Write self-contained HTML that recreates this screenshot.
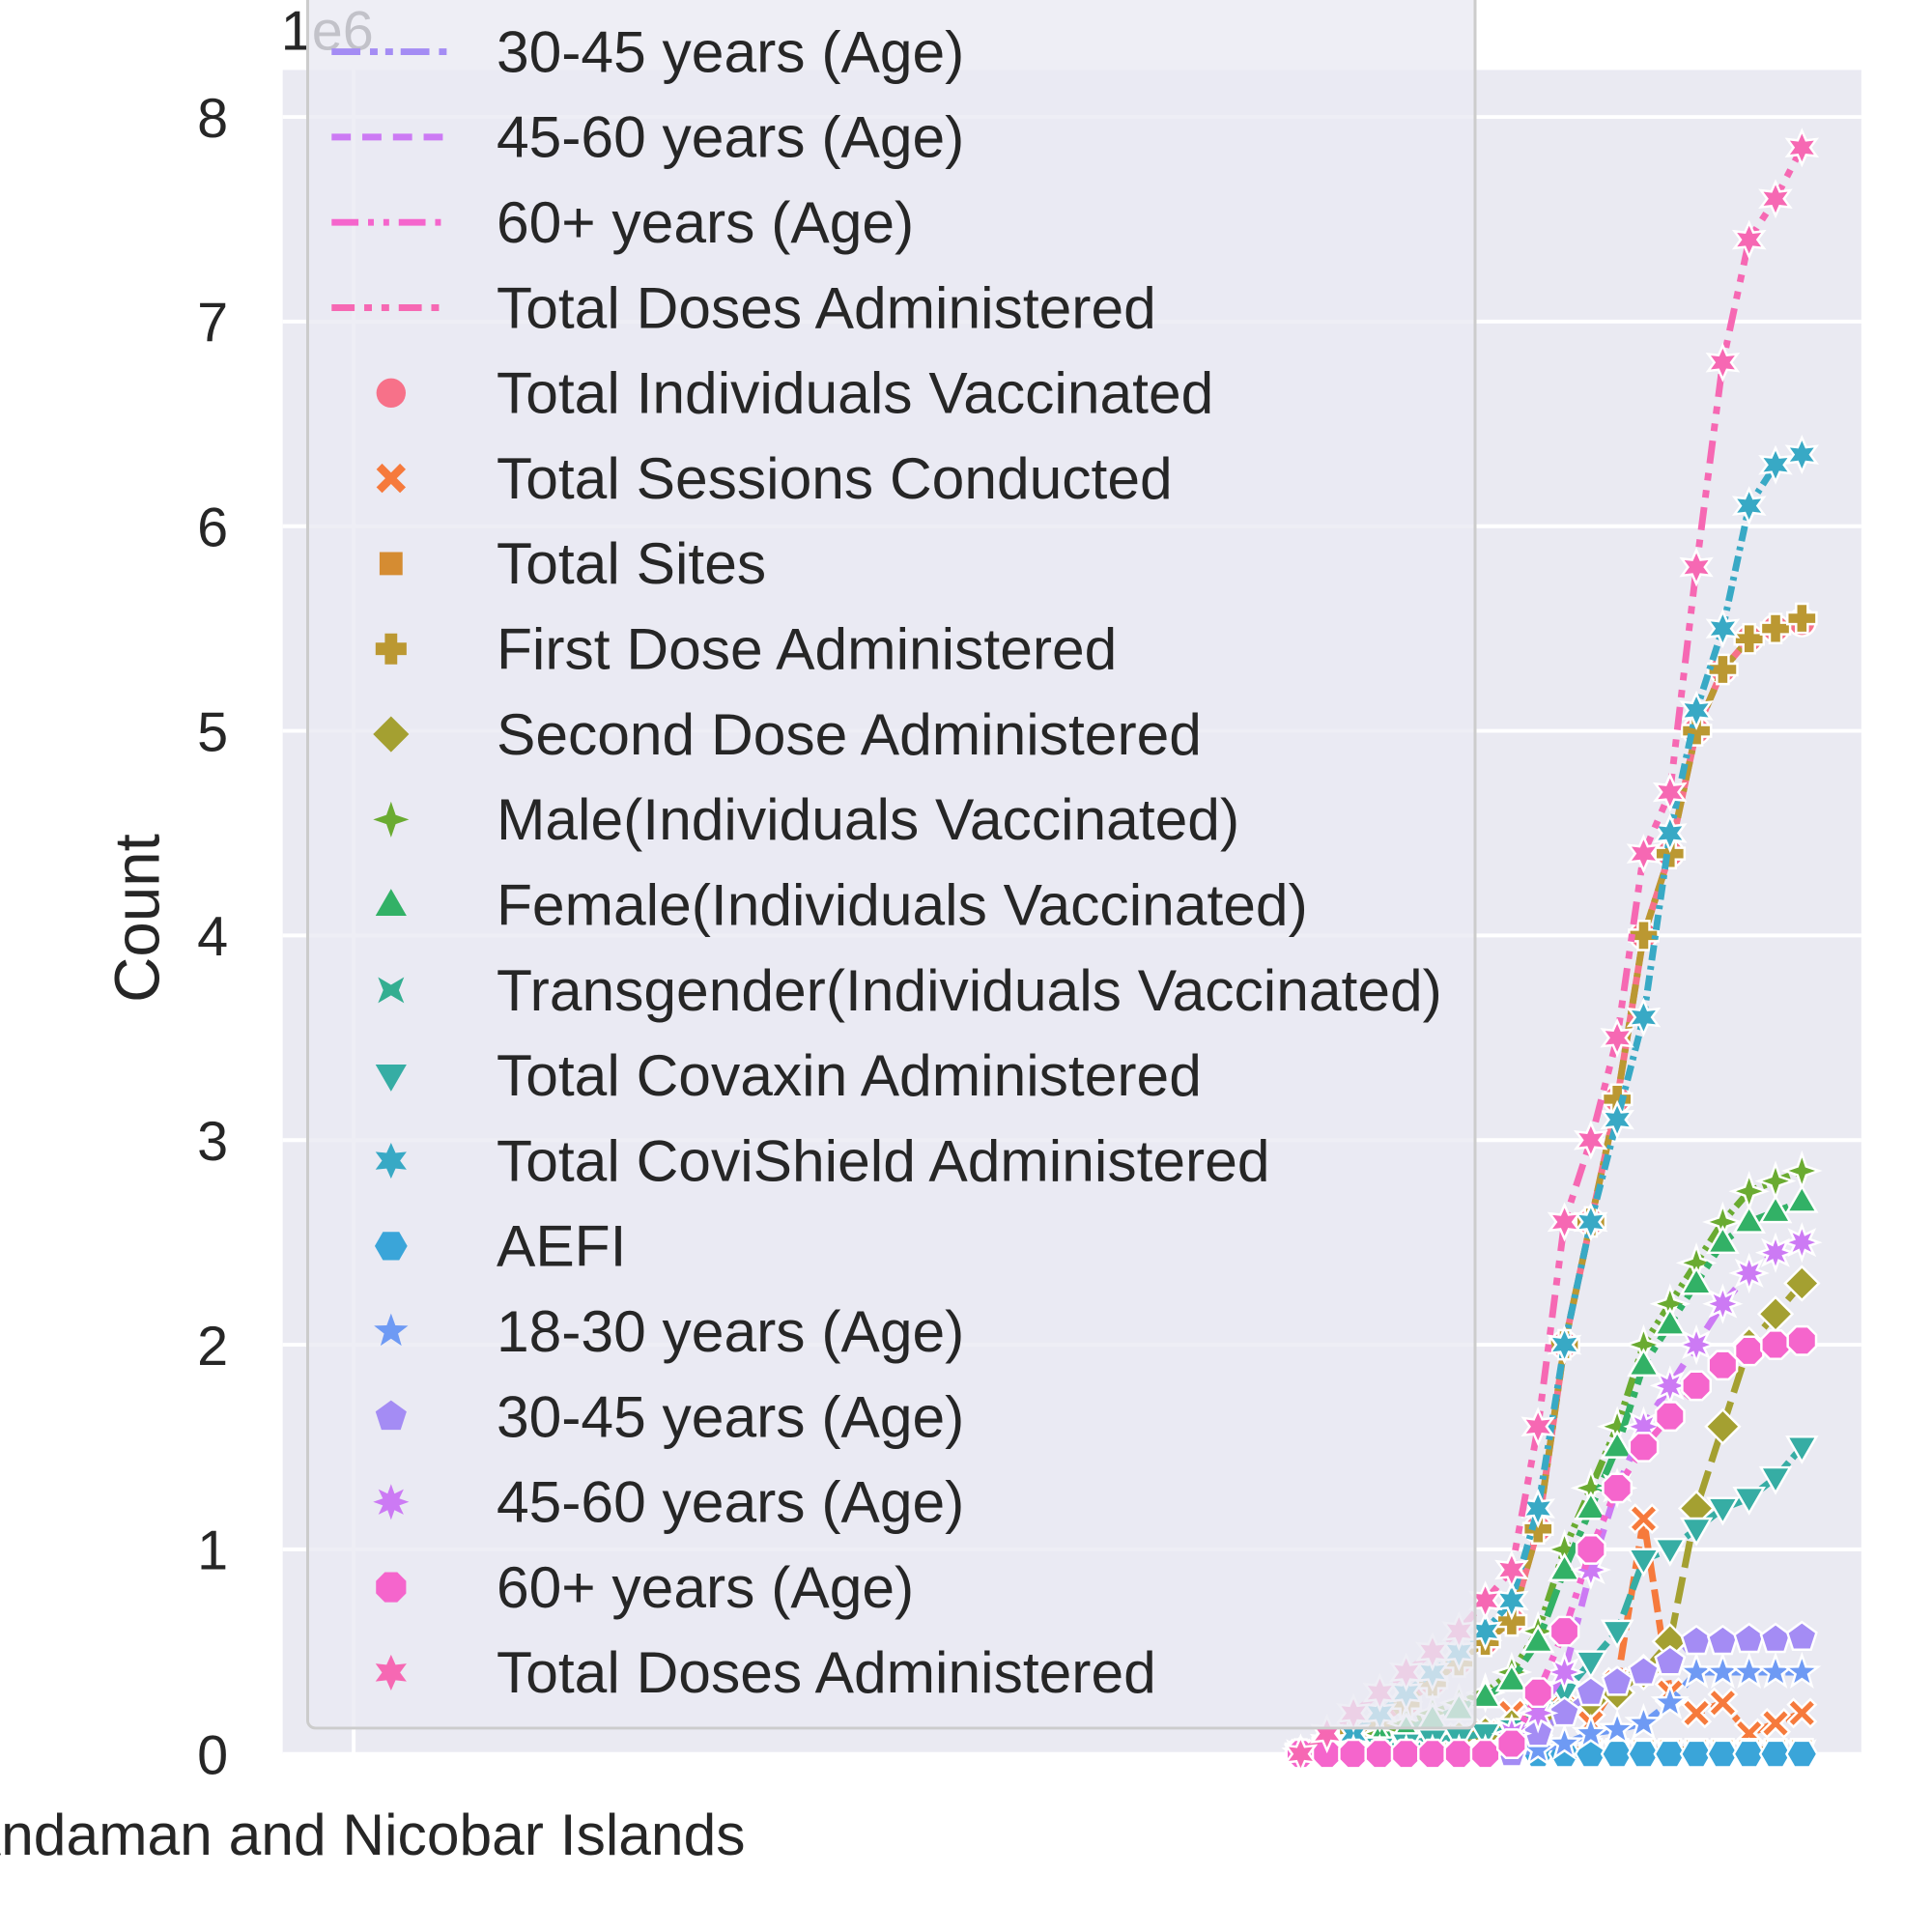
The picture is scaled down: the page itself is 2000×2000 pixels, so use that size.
<!DOCTYPE html>
<html><head><meta charset="utf-8">
<style>
html,body{margin:0;padding:0;background:#fff;}
svg{display:block;font-family:"Liberation Sans",Arial,sans-serif;}
</style></head>
<body>
<svg id="chart" width="2000" height="2000" viewBox="0 0 2000 2000" xmlns="http://www.w3.org/2000/svg">
<g transform="scale(0.9922)">
<rect x="295" y="73" width="1647" height="1757" fill="#eaeaf2"/>
<g id="grid"></g>
<g id="yticks"></g>
<text x="293" y="52" font-size="58" fill="#262626">1e6</text>
<text transform="translate(166,958) rotate(-90)" text-anchor="middle" font-size="66" fill="#262626">Count</text>
<text x="369" y="1935" text-anchor="middle" font-size="61" fill="#262626">Andaman and Nicobar Islands</text>
<g id="series"></g>
<rect x="321" y="-40" width="1218" height="1843" rx="8" fill="#eaeaf2" fill-opacity="0.8" stroke="#cccccc" stroke-width="3"/>
<g id="legend"></g>
</g>
</svg>
<script>
const seriesNames = ["Total Individuals Vaccinated","Total Sessions Conducted","Total Sites","First Dose Administered","Second Dose Administered","Male(Individuals Vaccinated)","Female(Individuals Vaccinated)","Transgender(Individuals Vaccinated)","Total Covaxin Administered","Total CoviShield Administered","AEFI","18-30 years (Age)","30-45 years (Age)","45-60 years (Age)","60+ years (Age)","Total Doses Administered"];
const yTicks = [0,1,2,3,4,5,6,7,8];
// values in millions, 20 sampled dates
const sIndividuals = [0,0.05,0.1,0.15,0.25,0.35,0.45,0.55,0.65,1.1,2.0,2.6,3.2,4.0,4.4,5.0,5.3,5.45,5.5,5.53];
const sSessions = [0,0.01,0.02,0.03,0.04,0.05,0.08,0.1,0.2,0.05,0.3,0.15,0.35,1.15,0.3,0.2,0.25,0.1,0.15,0.2];
const sSites = [0,0,0.01,0.01,0.01,0.01,0.02,0.02,0.02,0.02,0.02,0.02,0.02,0.02,0.02,0.02,0.02,0.02,0.02,0.02];
const sFirst = [0,0.05,0.1,0.15,0.25,0.35,0.45,0.55,0.65,1.1,2.0,2.6,3.2,4.0,4.4,5.0,5.3,5.45,5.5,5.55];
const sSecond = [0,0,0,0.02,0.04,0.06,0.08,0.1,0.14,0.18,0.22,0.26,0.3,0.4,0.55,1.2,1.6,2.0,2.15,2.3];
const sMale = [0,0.02,0.05,0.1,0.15,0.2,0.25,0.3,0.4,0.6,1.0,1.3,1.6,2.0,2.2,2.4,2.6,2.75,2.8,2.85];
const sFemale = [0,0.02,0.04,0.08,0.12,0.17,0.22,0.28,0.36,0.55,0.9,1.2,1.5,1.9,2.1,2.3,2.5,2.6,2.65,2.7];
const sTrans = [0,0,0,0,0,0,0,0,0,0,0,0,0,0,0,0,0,0,0,0];
const sCovaxin = [0,0.01,0.02,0.03,0.05,0.07,0.08,0.1,0.12,0.2,0.3,0.45,0.6,0.95,1.0,1.1,1.2,1.25,1.35,1.5];
const sCovishield = [0,0.05,0.1,0.2,0.3,0.4,0.5,0.6,0.75,1.2,2.0,2.6,3.1,3.6,4.5,5.1,5.5,6.1,6.3,6.35];
const sAefi = [0,0,0,0,0,0,0,0,0,0,0,0,0,0,0,0,0,0,0,0];
const s1830 = [0,0,0,0,0,0,0,0,0,0.02,0.05,0.1,0.12,0.15,0.25,0.4,0.4,0.4,0.4,0.4];
const s3045 = [0,0,0,0,0,0,0,0,0,0.1,0.2,0.3,0.35,0.4,0.45,0.55,0.55,0.56,0.56,0.57];
const s4560 = [0,0,0,0,0,0,0,0,0.1,0.2,0.4,0.9,1.3,1.6,1.8,2.0,2.2,2.35,2.45,2.5];
const s60 = [0,0,0,0,0,0,0,0,0.05,0.3,0.6,1.0,1.3,1.5,1.65,1.8,1.9,1.97,2.0,2.02];
const sDoses = [0,0.1,0.2,0.3,0.4,0.5,0.6,0.75,0.9,1.6,2.6,3.0,3.5,4.4,4.7,5.8,6.8,7.4,7.6,7.85];
const allSeries = [sIndividuals,sSessions,sSites,sFirst,sSecond,sMale,sFemale,sTrans,sCovaxin,sCovishield,sAefi,s1830,s3045,s4560,s60,sDoses];

const colors = ["#f77189","#f67a3c","#d58c32","#bb9832","#a4a031","#6aab31","#32b166","#34ae91","#36ada4","#38a9c5","#3aa5d9","#6e9af4","#a48cf4","#cc7af4","#f565cc","#f668b3"];
const dashes = ["", "24 8", "4 8", "20 8 4 8", "28 10", "20 6 4 6 4 6", "30 8 6 8", "8 8", "22 6", "16 6 4 6", "", "18 10", "30 10 8 8 8 8", "20 12", "28 10 6 10 6 10", "24 10 8 10 8 10"];
const markers = ["circle","x","square","plus","diamond","star4","tri","bow","trid","star6","hex","star5","pent","star8","oct","star6"];

const NS="http://www.w3.org/2000/svg";
const X0=1357, X1=1880, Y0=1830, YU=213.5;
function xs(i,n){return X0+i*(X1-X0)/(n-1);}
function ys(v){return Y0-v*YU;}

function poly(n,r,rot,cx,cy){let p=[];for(let k=0;k<n;k++){const a=rot+k*2*Math.PI/n;p.push((cx+r*Math.cos(a)).toFixed(1)+","+(cy+r*Math.sin(a)).toFixed(1));}return p.join(" ");}
function star(n,r,ri,cx,cy){let p=[];for(let k=0;k<2*n;k++){const a=-Math.PI/2+k*Math.PI/n;const rr=k%2?ri:r;p.push((cx+rr*Math.cos(a)).toFixed(1)+","+(cy+rr*Math.sin(a)).toFixed(1));}return p.join(" ");}
function markerEl(type,cx,cy,col,s){
  let el;
  if(type==="circle"){el=document.createElementNS(NS,"circle");el.setAttribute("cx",cx);el.setAttribute("cy",cy);el.setAttribute("r",s*0.9);}
  else {
    el=document.createElementNS(NS,"polygon");let pts;
    const r=s;
    if(type==="square")pts=poly(4,r,Math.PI/4,cx,cy);
    else if(type==="diamond")pts=poly(4,r*1.1,0,cx,cy);
    else if(type==="tri")pts=poly(3,r*1.1,-Math.PI/2,cx,cy+2);
    else if(type==="trid")pts=poly(3,r*1.1,Math.PI/2,cx,cy-2);
    else if(type==="hex")pts=poly(6,r,0,cx,cy);
    else if(type==="pent")pts=poly(5,r,-Math.PI/2,cx,cy);
    else if(type==="oct")pts=poly(8,r,Math.PI/8,cx,cy);
    else if(type==="star4")pts=star(4,r*1.1,r*0.4,cx,cy);
    else if(type==="star5")pts=star(5,r*1.1,r*0.45,cx,cy);
    else if(type==="star6")pts=star(6,r*1.1,r*0.55,cx,cy);
    else if(type==="star8")pts=star(8,r*1.1,r*0.55,cx,cy);
    else if(type==="bow")pts=[[-1,-1],[0,-0.4],[1,-1],[0.6,0],[1,1],[0,0.4],[-1,1],[-0.6,0]].map(q=>(cx+q[0]*r*0.8)+","+(cy+q[1]*r*0.8)).join(" ");
    else if(type==="x"){const a=r*0.35,b=r*0.9;pts=[[-b,-b+a],[-b+a,-b],[0,-a],[b-a,-b],[b,-b+a],[a,0],[b,b-a],[b-a,b],[0,a],[-b+a,b],[-b,b-a],[-a,0]].map(q=>(cx+q[0])+","+(cy+q[1])).join(" ");}
    else if(type==="plus"){const a=r*0.38,b=r*0.95;pts=[[-a,-b],[a,-b],[a,-a],[b,-a],[b,a],[a,a],[a,b],[-a,b],[-a,a],[-b,a],[-b,-a],[-a,-a]].map(q=>(cx+q[0])+","+(cy+q[1])).join(" ");}
    el.setAttribute("points",pts);
  }
  el.setAttribute("fill",col);
  el.setAttribute("stroke","#ffffff");
  el.setAttribute("stroke-width","2.5");
  return el;
}

const grid=document.getElementById("grid"), yt=document.getElementById("yticks");
yTicks.forEach(t=>{
  const l=document.createElementNS(NS,"line");
  l.setAttribute("x1",295);l.setAttribute("x2",1942);l.setAttribute("y1",ys(t));l.setAttribute("y2",ys(t));
  l.setAttribute("stroke","#ffffff");l.setAttribute("stroke-width","4");
  
  
  grid.appendChild(l);
  const tx=document.createElementNS(NS,"text");
  tx.setAttribute("x",238);tx.setAttribute("y",ys(t)+21);tx.setAttribute("text-anchor","end");tx.setAttribute("font-size","58");tx.setAttribute("fill","#262626");
  tx.textContent=t;
  
  
  yt.appendChild(tx);
});
const vl=document.createElementNS(NS,"line");
vl.setAttribute("x1",369);vl.setAttribute("x2",369);vl.setAttribute("y1",73);vl.setAttribute("y2",1830);vl.setAttribute("stroke","#fff");vl.setAttribute("stroke-width","4");


grid.appendChild(vl);

const sg=document.getElementById("series");
allSeries.forEach((vals,si)=>{
  const g=document.createElementNS(NS,"g");
  
  
  const pl=document.createElementNS(NS,"polyline");
  pl.setAttribute("points",vals.map((v,i)=>xs(i,vals.length)+","+ys(v)).join(" "));
  pl.setAttribute("fill","none");pl.setAttribute("stroke",colors[si]);pl.setAttribute("stroke-width","7");
  if(dashes[si])pl.setAttribute("stroke-dasharray",dashes[si]);
  
  
  g.appendChild(pl);
  vals.forEach((v,i)=>{
    const m=markerEl(markers[si],xs(i,vals.length),ys(v),colors[si],16);
    
    
    g.appendChild(m);
  });
  sg.appendChild(g);
});

const lg=document.getElementById("legend");
const lineEntries=[12,13,14,15];
let row=0;
function legText(y,txt){
  const t=document.createElementNS(NS,"text");
  t.setAttribute("x",518);t.setAttribute("y",y+21);t.setAttribute("font-size","61");t.setAttribute("fill","#262626");
  t.textContent=txt;
  
  
  lg.appendChild(t);
}
lineEntries.forEach(si=>{
  const y=54+89*row;
  const l=document.createElementNS(NS,"line");
  l.setAttribute("x1",346);l.setAttribute("x2",468);l.setAttribute("y1",y);l.setAttribute("y2",y);
  l.setAttribute("stroke",colors[si]);l.setAttribute("stroke-width","7");l.setAttribute("stroke-dasharray",dashes[si]);
  
  
  lg.appendChild(l);
  legText(y,seriesNames[si]);
  row++;
});
seriesNames.forEach((nm,si)=>{
  const y=54+89*row;
  const m=markerEl(markers[si],408,y,colors[si],17);
  m.setAttribute("stroke","none");
  
  
  lg.appendChild(m);
  legText(y,nm);
  row++;
});
</script>
</body></html>
